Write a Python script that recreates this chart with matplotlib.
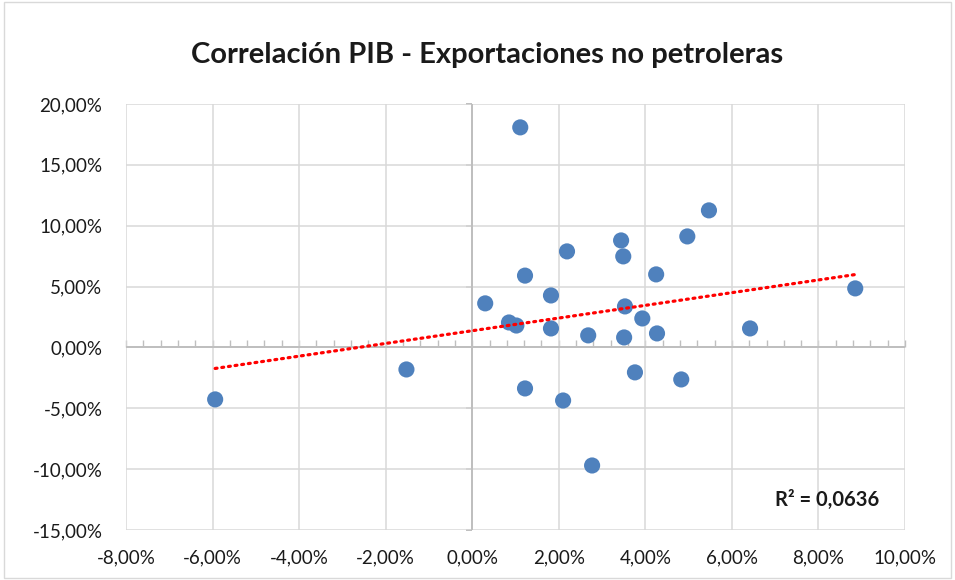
import matplotlib.pyplot as plt
import numpy as np
from matplotlib.ticker import FuncFormatter, MultipleLocator
from matplotlib.patches import Rectangle

plt.rcParams['font.family'] = ['Lato', 'DejaVu Sans']

# crecimiento PIB (%) vs crecimiento exportaciones no petroleras (%)
pib = [-5.94, -1.52, 1.11, 0.30, 0.85, 1.02, 1.22, 1.22, 1.82, 1.82,
       2.19, 2.10, 2.68, 2.77, 3.44, 3.49, 3.53, 3.51, 3.76, 3.93,
       4.25, 4.27, 4.83, 4.97, 5.47, 6.42, 8.85]
export_np = [-4.27, -1.81, 18.08, 3.62, 2.05, 1.80, 5.90, -3.37, 4.27, 1.56,
             7.89, -4.36, 0.99, -9.70, 8.79, 7.48, 3.37, 0.82, -2.05, 2.38,
             6.00, 1.15, -2.63, 9.12, 11.26, 1.56, 4.85]
r2_label = "R² = 0,0636"

x = np.array(pib)
y = np.array(export_np)
slope, intercept = np.polyfit(x, y, 1)
xt = np.array([x.min(), x.max()])

fig = plt.figure(figsize=(9.55, 5.8), dpi=100)
ax = fig.add_axes([126/955, 1 - 530/580, (905-126)/955, (530-104)/580])

pct = FuncFormatter(lambda v, p: f"{v:.2f}%".replace('.', ','))

ax.set_xlim(-8, 10)
ax.set_ylim(-15, 20)
ax.xaxis.set_major_locator(MultipleLocator(2))
ax.yaxis.set_major_locator(MultipleLocator(5))
ax.xaxis.set_major_formatter(pct)
ax.yaxis.set_major_formatter(pct)
ax.tick_params(length=0, labelsize=13.5, labelcolor='#1a1a1a')
ax.tick_params(axis='y', pad=17)
ax.tick_params(axis='x', pad=14)
ax.grid(True, color='#d9d9d9', linewidth=1.1)
ax.set_axisbelow(True)
for s in ax.spines.values():
    s.set_visible(False)

# ejes en cero, estilo Excel
ax.axhline(0, color='#bfbfbf', linewidth=1.4, zorder=1)
ax.axvline(0, color='#bfbfbf', linewidth=1.4, zorder=1)
sx = ax.secondary_xaxis(15/35)
sx.spines['bottom'].set_visible(False)
sx.xaxis.set_major_locator(MultipleLocator(2))
sx.xaxis.set_minor_locator(MultipleLocator(0.4))
sx.tick_params(which='both', direction='in', length=5, width=1, color='#bfbfbf', labelbottom=False)
sy = ax.secondary_yaxis(8/18)
sy.spines['left'].set_visible(False)
sy.yaxis.set_major_locator(MultipleLocator(5))
sy.tick_params(direction='out', length=4, width=1.4, color='#bfbfbf', labelleft=False)

ax.scatter(x, y, s=135, color='#4f81bd', edgecolors='none', zorder=3)
ax.plot(xt, slope * xt + intercept, color='#ff0000', linewidth=2.3,
        linestyle=(0, (0.6, 1.5)), dash_capstyle='round', zorder=4)

ax.text(9.4, -12.5, r2_label, fontsize=14.5, fontweight='bold', color='#1a1a1a',
        ha='right', va='center', zorder=5)

fig.text(487/955, 1 - 55/580, "Correlación PIB - Exportaciones no petroleras",
         fontsize=21, fontweight='bold', color='#1a1a1a', ha='center', va='center')

fig.patches.append(Rectangle((0.004, 0.004), 0.992, 0.992, transform=fig.transFigure,
                             fill=False, edgecolor='#d9d9d9', linewidth=1))

fig.savefig('out.png', dpi=100)
